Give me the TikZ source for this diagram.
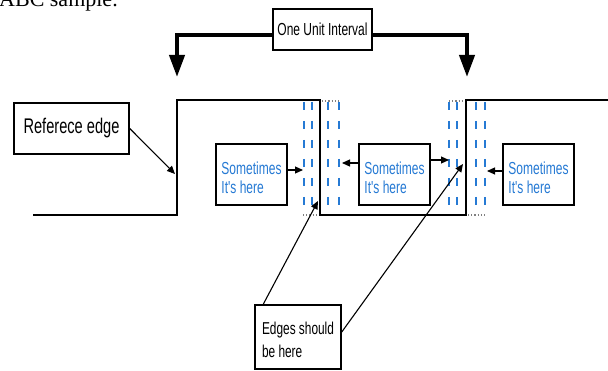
\documentclass[tikz,border=0pt]{standalone}
\usepackage{fontspec}
\setmainfont{Liberation Serif}
\newfontfamily\cond[FakeStretch=0.69]{Liberation Sans}
\usetikzlibrary{arrows.meta}
\definecolor{jblue}{RGB}{38,122,212}
\newcommand\twolines[3]{\raisebox{#1}[\height][\depth]{\begin{tabular}{@{}l@{}}#2\\#3\end{tabular}}}
\begin{document}
\begin{tikzpicture}[x=1pt,y=-1pt,
  box/.style={draw=black,line width=1.5pt,fill=white,inner sep=0pt,font=\cond},
  sbox/.style={box,minimum width=71pt,minimum height=61pt,text=jblue,
    font=\cond\fontsize{17.4}{18.5}\selectfont},
  wave/.style={line width=2.6pt,line join=miter},
  bracket/.style={line width=4pt,-{Triangle[width=15pt,length=22pt]}},
  thinarrow/.style={line width=1.1pt,-{Triangle[width=7pt,length=8pt]}},
  jitter/.style={jblue,line width=1.6pt,dash pattern=on 8pt off 11pt},
  grid/.style={gray,line width=1.2pt,dotted}]
\useasboundingbox (0,0) rectangle (608,371);
% clipped caption at the top
\node[anchor=base west,inner sep=0pt,font=\fontsize{22}{24}\selectfont] (cap) at (-1,7) {ABC sample.};
% jitter regions
\foreach \x in {304,312,328,339,449,457,476,485}
  \draw[jitter] (\x,102) -- (\x,213);
\draw[grid] (303,215) -- (318,215);
\draw[grid] (322,101) -- (340,101);
\draw[grid] (449,101) -- (465,101);
\draw[grid] (468,215) -- (486,215);
% waveform
\draw[wave] (33,215) -- (177,215) -- (177,100) -- (320,100) -- (320,215)
  -- (466,215) -- (466,100) -- (608,100);
% coordinates on the waveform
\coordinate (refpt) at (175,174);
\coordinate (lt) at (177,77);
\coordinate (rt) at (467,77);
\coordinate (e1) at (318,201);
\coordinate (e2) at (463,164);
\coordinate (a1) at (303,170);
\coordinate (a2l) at (342,163);
\coordinate (a2r) at (449,160);
\coordinate (a3) at (487,171);
% boxes
\node[box,minimum width=99pt,minimum height=41pt,font=\cond\fontsize{17.4}{19}\selectfont] (unit) at (322.5,29.5) {One Unit Interval};
\node[box,minimum width=115pt,minimum height=51pt,font=\cond\fontsize{21.2}{23}\selectfont] (ref) at (71.5,128.5) {Referece edge};
\node[sbox] (s1) at (251.5,174.5) {\twolines{-6pt}{Sometimes}{It's here}};
\node[sbox] (s2) at (394.5,174.5) {\twolines{-6pt}{Sometimes}{It's here}};
\node[sbox] (s3) at (538.5,174.5) {\twolines{-6pt}{Sometimes}{It's here}};
\node[box,minimum width=86pt,minimum height=64pt,
  font=\cond\fontsize{17.2}{23}\selectfont] (edges) at (298,337) {\twolines{-4pt}{Edges should}{be here}};
% unit interval bracket
\draw[bracket] ([yshift=-6pt]unit.west) -| (lt);
\draw[bracket] ([yshift=-6pt]unit.east) -| (rt);
% arrows
\draw[thinarrow] (ref.east) -- (refpt);
\draw[thinarrow] (s1.east |- a1) -- (a1);
\draw[thinarrow] (s2.west |- a2l) -- (a2l);
\draw[thinarrow] (s2.east |- a2r) -- (a2r);
\draw[thinarrow] (s3.west |- a3) -- (a3);
\draw[thinarrow] ([xshift=9pt]edges.north west) -- (e1);
\draw[thinarrow] ([yshift=5pt]edges.east) -- (e2);
\end{tikzpicture}
\end{document}
